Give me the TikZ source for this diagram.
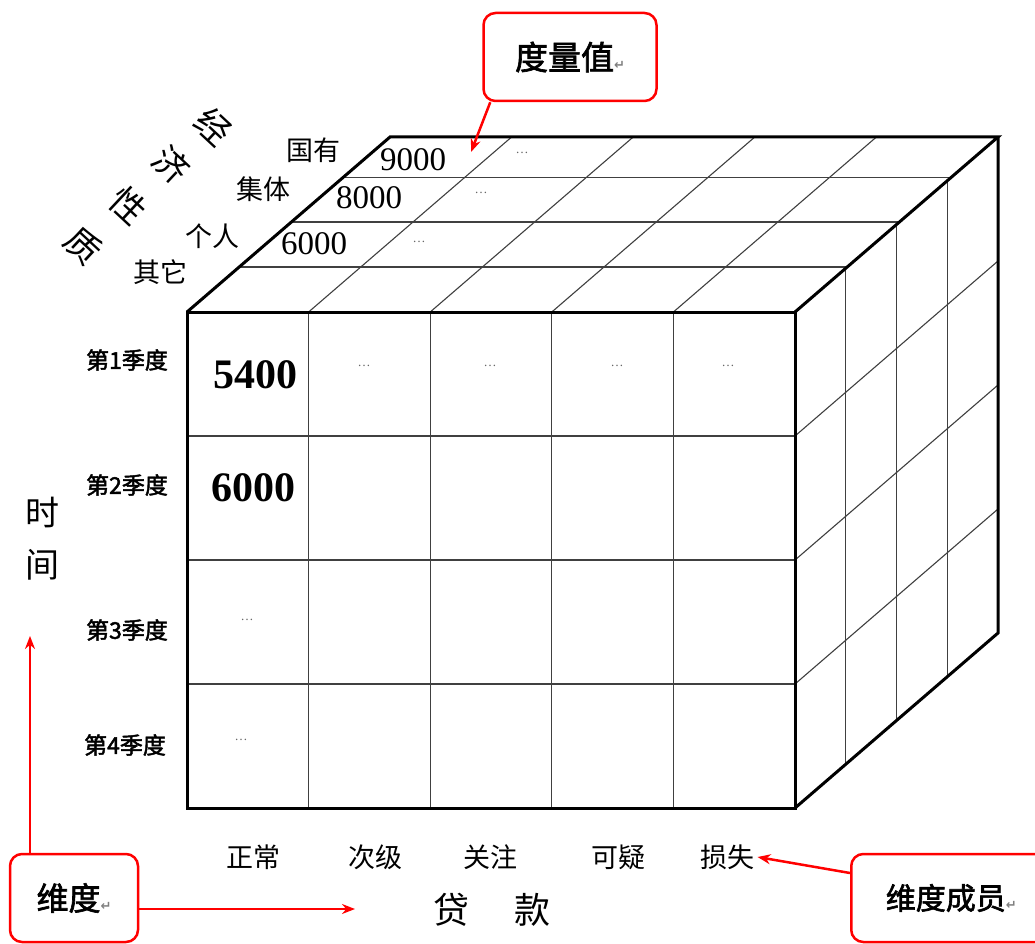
\documentclass[tikz,border=0pt]{standalone}
\usepackage{fontspec}
\setmainfont{Liberation Serif}
\newfontfamily\cjk{Noto Sans CJK SC}[BoldFont={Noto Sans CJK SC},BoldFeatures={FakeBold=2}]
\newfontfamily\symfont{DejaVu Sans}
\usetikzlibrary{arrows.meta,calc}
\newcommand\fsz[1]{\fontsize{#1}{#1}\selectfont}
\newcommand\retmark{{\symfont\fsz{13}\textcolor{gray}{↵}}}
\begin{document}
\begin{tikzpicture}[x=1pt,y=-1pt,
  thin grid/.style={line width=1.1pt,draw=black!75},
  thick edge/.style={line width=3pt,line join=miter,draw=black},
  callout/.style={draw=red,line width=2.5pt,rounded corners=12pt,fill=white,inner sep=0pt},
  redarrow/.style={draw=red,line width=2.5pt,-{Stealth[length=13pt,width=10pt]}},
  dots/.style={text=black!60,font=\fsz{13}},
  topval/.style={font=\fsz{33}},
  frontval/.style={font=\bfseries\fsz{42}},
  slicelbl/.style={font=\cjk\fsz{27}},
  rowlbl/.style={font=\cjk\bfseries\fsz{23}},
  collbl/.style={font=\cjk\fsz{27}},
  axislbl/.style={font=\cjk\fsz{34}},
  econ/.style={font=\cjk\fsz{35},rotate=-43}
]
\clip (0,0) rectangle (1035,944);
\fill[white] (0,0) rectangle (1035,944);

% geometry
\def\xa{187}\def\xb{795}\def\ya{312}\def\yb{808}
\def\dx{203}\def\dy{-175}

% thin interior lines: front face
\foreach \i in {1,2,3,4}{
  \draw[thin grid] ({\xa+\i*121.6},\ya) -- ({\xa+\i*121.6},\yb);
}
\foreach \j in {1,2,3}{
  \draw[thin grid] (\xa,{\ya+\j*124}) -- (\xb,{\ya+\j*124});
}
% top face (depth fractions)
\foreach \f in {0.257,0.514,0.771}{
  \draw[thin grid] ({\xa+\f*\dx},{\ya+\f*\dy}) -- ({\xb+\f*\dx},{\ya+\f*\dy});
}
\foreach \i in {1,2,3,4}{
  \draw[thin grid] ({\xa+\i*121.6},\ya) -- ({\xa+\i*121.6+\dx},{\ya+\dy});
}
% right face
\foreach \f in {0.25,0.5,0.75}{
  \draw[thin grid] ({\xb+\f*\dx},{\ya+\f*\dy}) -- ({\xb+\f*\dx},{\yb+\f*\dy});
}
\foreach \j in {1,2,3}{
  \draw[thin grid] (\xb,{\ya+\j*124}) -- ({\xb+\dx},{\ya+\j*124+\dy});
}
% thick outline
\draw[thick edge] (\xa,\ya) rectangle (\xb,\yb);
\draw[thick edge] (\xa,\ya) -- ({\xa+\dx},{\ya+\dy}) -- ({\xb+\dx},{\ya+\dy}) -- (\xb,\ya);
\draw[thick edge] ({\xb+\dx},{\ya+\dy}) -- ({\xb+\dx},{\yb+\dy}) -- (\xb,\yb);

% top face values
\node[topval] (v9000) at (413,160) {9000};
\node[topval] (v8000) at (369,198) {8000};
\node[topval] (v6000t) at (314,244) {6000};
\node[dots] (dt1) at (522,153) {…};
\node[dots] (dt2) at (481,193) {…};
\node[dots] (dt3) at (419,242) {…};

% slice labels
\node[slicelbl] (s1) at (313,150) {国有};
\node[slicelbl] (s2) at (263,189) {集体};
\node[slicelbl] (s3) at (212,236) {个人};
\node[slicelbl] (s4) at (160,272) {其它};

% economic nature label (rotated characters)
\node[econ] (e1) at (214,126) {经};
\node[econ] (e2) at (172,165) {济};
\node[econ] (e3) at (128,206) {性};
\node[econ] (e4) at (83,246) {质};

% front values
\node[frontval] (f5400) at (255,375) {5400};
\node[frontval] (f6000) at (253,488) {6000};
\node[dots] (d11) at (364,366) {…};
\node[dots] (d12) at (490,366) {…};
\node[dots] (d13) at (617,366) {…};
\node[dots] (d14) at (728,366) {…};
\node[dots] (d31) at (247,620) {…};
\node[dots] (d41) at (241,740) {…};

% row labels
\node[rowlbl] (r1) at (127,360) {第1季度};
\node[rowlbl] (r2) at (127,485) {第2季度};
\node[rowlbl] (r3) at (127,630) {第3季度};
\node[rowlbl] (r4) at (125,745) {第4季度};

% time axis label
\node[axislbl] (t1) at (42,512) {时};
\node[axislbl] (t2) at (42,565) {间};

% column labels
\node[collbl] (c1) at (253,857) {正常};
\node[collbl] (c2) at (375,857) {次级};
\node[collbl] (c3) at (490,857) {关注};
\node[collbl] (c4) at (618,857) {可疑};
\node[collbl] (c5) at (727,857) {损失};
\node[font=\cjk\fsz{36}] (loan) at (492,910) {贷\hspace{46pt}款};

% callouts
\node[callout,minimum width=173pt,minimum height=88pt] (measure) at (570,57) {\cjk\bfseries\fsz{33}度量值\retmark};
\node[callout,minimum width=128pt,minimum height=88pt] (dim) at (74,898) {\cjk\bfseries\fsz{32}维度\retmark};
\node[callout,minimum width=210pt,minimum height=88pt,anchor=west] (member) at (850,898) {\hspace{-10pt}\cjk\bfseries\fsz{30}维度成员\retmark};

\coordinate (mtip) at (471,152);
\coordinate (mstart) at ($(measure.south west)+(8,0)$);
\draw[redarrow] (mstart) -- (mtip);

\coordinate (uptip) at (30,636);
\coordinate (dimtop) at (30,855);
\draw[redarrow] (dimtop) -- (uptip);

\coordinate (righttip) at (355,909);
\coordinate (dimright) at (138,909);
\draw[redarrow] (dimright) -- (righttip);

\coordinate (memstart) at (850,873);
\draw[redarrow] (memstart) -- (c5.east);
\end{tikzpicture}
\end{document}
